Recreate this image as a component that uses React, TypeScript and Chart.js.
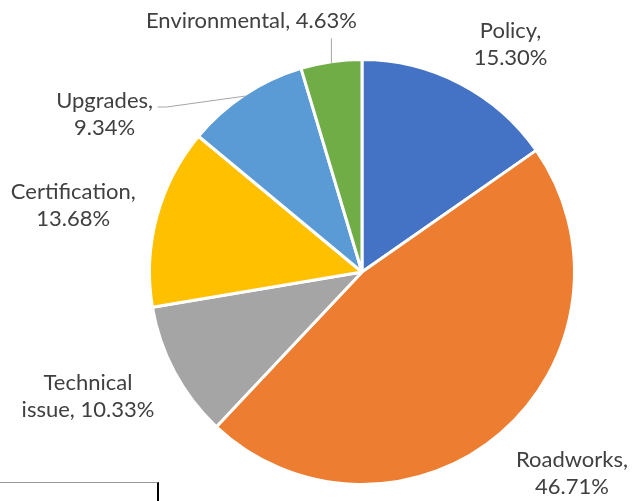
import React, { useEffect, useRef } from "react";
import { Chart, registerables } from "chart.js";

Chart.register(...registerables);

const categories = ["Policy", "Roadworks", "Technical issue", "Certification", "Upgrades", "Environmental"];
const shares = [15.3, 46.71, 10.33, 13.68, 9.34, 4.63];
const colors = ["#4472C4", "#ED7D31", "#A5A5A5", "#FFC000", "#5B9BD5", "#70AD47"];
const labelLines = [
  ["Policy,", "15.30%"],
  ["Roadworks,", "46.71%"],
  ["Technical", "issue, 10.33%"],
  ["Certification,", "13.68%"],
  ["Upgrades,", "9.34%"],
  ["Environmental, 4.63%"],
];
// label centre offset from the arc's outer mid point
const labelOffsets = [
  [51, -41],
  [72, 42],
  [-88, 25],
  [-85, -12],
  [-141, 18],
  [-80, -42],
];

const FONT = "22px Lato, 'Open Sans', sans-serif";
const LINE_H = 27;

const labelPlugin = {
  id: "pieLabels",
  afterDatasetsDraw(chart: any) {
    const ctx = chart.ctx;
    const meta = chart.getDatasetMeta(0);
    ctx.save();
    ctx.font = FONT;
    ctx.fillStyle = "#404040";
    ctx.textAlign = "center";
    ctx.textBaseline = "middle";
    meta.data.forEach((arc: any, i: number) => {
      const { x, y, startAngle, endAngle, outerRadius } = arc.getProps(
        ["x", "y", "startAngle", "endAngle", "outerRadius"],
        true
      );
      const mid = (startAngle + endAngle) / 2;
      const r = outerRadius - 1.5;
      const px = x + Math.cos(mid) * r;
      const py = y + Math.sin(mid) * r;
      const cx = px + labelOffsets[i][0];
      const cy = py + labelOffsets[i][1];
      const lines = labelLines[i];
      const top = cy - ((lines.length - 1) * LINE_H) / 2;
      lines.forEach((t, k) => ctx.fillText(t, cx, top + k * LINE_H));
      // leader lines
      ctx.strokeStyle = "#A6A6A6";
      ctx.lineWidth = 1;
      if (categories[i] === "Upgrades") {
        ctx.beginPath();
        ctx.moveTo(px, py);
        ctx.lineTo(cx + 62, cy - 7);
        ctx.lineTo(cx + 53, cy - 7);
        ctx.stroke();
      } else if (categories[i] === "Environmental") {
        ctx.beginPath();
        ctx.moveTo(px, py);
        ctx.lineTo(px, cy + 17);
        ctx.stroke();
      }
    });
    ctx.restore();
  },
};

export default function App() {
  const ref = useRef<HTMLCanvasElement>(null);
  useEffect(() => {
    document.body.style.margin = "0";
    const chart = new Chart(ref.current!, {
      type: "pie",
      data: {
        labels: categories,
        datasets: [
          {
            data: shares,
            backgroundColor: colors,
            borderColor: "#FFFFFF",
            borderWidth: 3,
          },
        ],
      },
      options: {
        animation: false,
        responsive: false,
        maintainAspectRatio: false,
        layout: { padding: { left: 148, right: 56, top: 58, bottom: 15 } },
        plugins: {
          legend: { display: false },
          tooltip: { enabled: false },
        },
      },
      plugins: [labelPlugin],
    });
    return () => chart.destroy();
  }, []);
  return (
    <div style={{ position: "relative", width: 632, height: 501, overflow: "hidden", background: "#fff" }}>
      <canvas ref={ref} width={632} height={501} style={{ display: "block" }} />
      <div
        style={{
          position: "absolute",
          left: 0,
          top: 482,
          width: 157,
          height: 40,
          borderTop: "1px solid #9a9a9a",
          borderRight: "2px solid #000",
        }}
      />
    </div>
  );
}
